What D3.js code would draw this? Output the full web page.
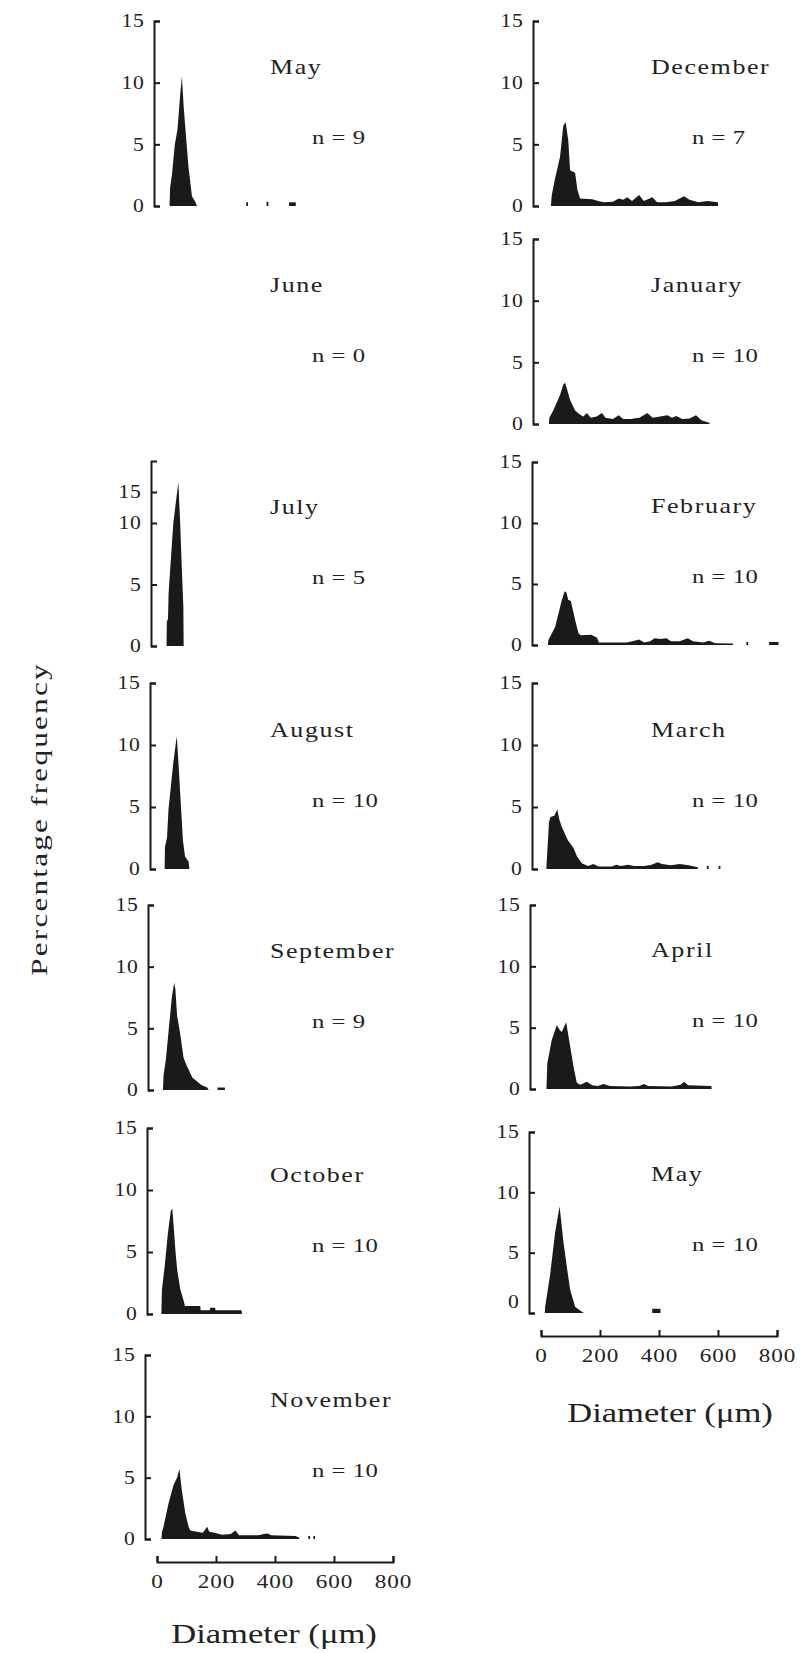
<!DOCTYPE html>
<html>
<head>
<meta charset="utf-8">
<title>Diameter frequency by month</title>
<script src="https://d3js.org/d3.v7.min.js"></script>
<style>
    body { margin: 0; background: #fff; }
    svg text { font-family: "Liberation Serif", "Times New Roman", serif; fill: #222; }
</style>
</head>
<body>
<svg id="chart" width="800" height="1653"></svg>
<script>
    // ---- data: [diameter (um), percentage frequency] ----
    const monthNames = ["May", "June", "July", "August", "September", "October", "November",
                        "December", "January", "February", "March", "April", "May"];
    const sampleSizes = [9, 0, 5, 10, 9, 10, 10, 7, 10, 10, 10, 10, 10];
    const yTicks = [0, 5, 10, 15];
    const xTicks = [0, 200, 400, 600, 800];

    const mayFirst = [[12,0],[14,1.5],[20,2.5],[30,5],[39,6.2],[48,9],[54,10.5],[60,8],[70,5],[76,3.2],[88,0.8],[100,0.3],[105,0]];
    const june = [];
    const july = [[12,0],[13,2],[17,2.2],[19,4.3],[35,10],[52,16.6],[58,10.2],[64,6.2],[69,3.2],[70,0]];
    const august = [[9,0],[10,1.8],[17,2.5],[22,4.8],[38,8.5],[50,10.7],[56,8.5],[61,6.4],[71,2.3],[78,1.0],[90,0.6],[93,0]];
    const september = [[10,0],[12,1.2],[20,2.5],[30,5],[40,7.5],[48,8.7],[52,8.2],[58,6],[64,5.2],[70,4.3],[80,2.6],[90,2.0],[100,1.5],[110,1.0],[125,0.7],[140,0.4],[160,0.2],[165,0]];
    const october = [[8,0],[10,2],[20,4],[30,6.5],[40,8.3],[45,8.5],[50,7],[56,5],[62,3.5],[72,2],[82,1.2],[88,0.65],[140,0.65],[141,0.3],[172,0.3],[174,0.5],[190,0.5],[192,0.3],[280,0.3],[281,0]];
    const november = [[15,0],[17,0.6],[22,1.0],[39,2.9],[56,4.4],[68,5.0],[76,5.7],[84,4.0],[96,2.1],[107,1.0],[113,0.7],[135,0.6],[155,0.5],[164,0.8],[170,1.0],[177,0.6],[195,0.5],[220,0.35],[250,0.4],[266,0.7],[278,0.3],[345,0.3],[362,0.4],[374,0.45],[388,0.3],[470,0.25],[482,0.1],[483,0]];
    const december = [[20,0],[23,0.9],[33,2.1],[51,4.0],[62,6.5],[70,6.8],[79,5.3],[85,2.9],[102,2.7],[110,1.3],[119,0.6],[160,0.55],[180,0.4],[200,0.3],[230,0.35],[250,0.6],[265,0.5],[279,0.7],[295,0.4],[319,0.9],[335,0.4],[364,0.7],[380,0.3],[410,0.3],[440,0.4],[471,0.8],[490,0.5],[520,0.3],[550,0.4],[586,0.3],[587,0]];
    const january = [[13,0],[15,0.5],[28,1.1],[51,2.35],[62,3.2],[68,3.35],[75,2.8],[85,1.95],[102,1.1],[119,0.75],[130,0.6],[142,0.9],[155,0.5],[175,0.6],[193,0.9],[205,0.5],[230,0.4],[250,0.7],[265,0.4],[290,0.4],[320,0.5],[347,0.9],[365,0.5],[390,0.6],[415,0.7],[430,0.5],[445,0.65],[465,0.4],[490,0.45],[512,0.7],[530,0.3],[557,0.1],[558,0]];
    const february = [[13,0],[15,0.4],[38,1.5],[60,3.65],[70,4.4],[76,4.3],[82,3.7],[91,3.6],[106,2.0],[117,0.95],[125,0.8],[160,0.85],[180,0.6],[186,0.2],[280,0.2],[300,0.3],[322,0.45],[340,0.2],[360,0.3],[375,0.55],[395,0.5],[415,0.55],[430,0.3],[460,0.3],[487,0.55],[505,0.3],[540,0.2],[560,0.35],[580,0.15],[640,0.12],[641,0]];
    const march = [[8,0],[9,0.5],[17,3.8],[22,4.2],[35,4.3],[45,4.8],[52,4.0],[60,3.4],[80,2.35],[100,1.7],[112,1.0],[129,0.45],[150,0.25],[167,0.4],[185,0.2],[230,0.2],[245,0.35],[260,0.25],[285,0.35],[305,0.25],[340,0.25],[365,0.35],[385,0.55],[400,0.4],[430,0.3],[460,0.4],[490,0.3],[521,0.15],[522,0]];
    const april = [[15,0],[16,0.7],[18,2.1],[33,4.0],[50,5.2],[60,4.8],[67,4.65],[75,5.1],[82,5.45],[90,4.25],[107,1.8],[118,0.5],[130,0.35],[152,0.6],[170,0.3],[190,0.25],[208,0.4],[230,0.25],[300,0.2],[330,0.25],[345,0.4],[360,0.25],[440,0.2],[470,0.35],[482,0.6],[495,0.3],[574,0.25],[575,0]];
    const maySecond = [[13,0],[14,0.5],[31,3.2],[48,6.7],[63,8.85],[76,5.9],[88,3.75],[99,1.9],[116,0.5],[145,0]];

    // isolated single counts beyond the main body: [from um, to um, pct]
    const mayFirstSpecks = [[272,278,0.3],[341,347,0.35],[417,440,0.3]];
    const septemberSpecks = [[195,220,0.2]];
    const novemberSpecks = [[513,519,0.25],[530,536,0.25]];
    const februarySpecks = [[686,692,0.25],[763,795,0.25]];
    const marchSpecks = [[552,558,0.25],[592,598,0.25]];
    const maySecondSpecks = [[377,405,0.35]];

    const series = [mayFirst, june, july, august, september, october, november,
                    december, january, february, march, april, maySecond];
    const specks = [mayFirstSpecks, [], [], [], septemberSpecks, [], novemberSpecks,
                    [], [], februarySpecks, marchSpecks, [], maySecondSpecks];

    // ---- layout ----
    const panels = [
        {col: 0, base: 206,  top: 21,   axisX: 154},
        {col: 0, base: 424,  top: 239,  axisX: 152, noAxis: true},
        {col: 0, base: 646,  top: 461,  axisX: 151, broken: true},
        {col: 0, base: 869,  top: 683,  axisX: 150},
        {col: 0, base: 1090, top: 905,  axisX: 148},
        {col: 0, base: 1314, top: 1128, axisX: 147},
        {col: 0, base: 1539, top: 1355, axisX: 145, xAxis: true},
        {col: 1, base: 206,  top: 21,   axisX: 533},
        {col: 1, base: 424,  top: 239,  axisX: 533},
        {col: 1, base: 645,  top: 462,  axisX: 532},
        {col: 1, base: 869,  top: 683,  axisX: 532},
        {col: 1, base: 1089, top: 905,  axisX: 530},
        {col: 1, base: 1313, top: 1132, axisX: 529, xAxis: true, zeroShift: -11}
    ];
    const labelX = [270, 651];
    const nLabelX = [312, 692];

    const ink = "#1a1a1a";
    const svg = d3.select("#chart");

    // the print is set wide: stretch the glyphs and open the spacing a little
    function wideText(x, y, str, size, sx, spacing, anchor, rotate) {
        return svg.append("text")
            .attr("transform", `translate(${x},${y})` + (rotate ? ` rotate(${rotate})` : "") + ` scale(${sx},1)`)
            .attr("text-anchor", anchor || "start")
            .style("font-size", size + "px")
            .style("letter-spacing", spacing + "px")
            .text(str);
    }

    panels.forEach((p, i) => {
        const x = d3.scaleLinear().domain([0, 800]).range([p.axisX + 12, p.axisX + 12 + 236]);
        let y;
        if (p.broken) {
            // July axis is compressed above 10
            y = d3.scaleLinear().domain([0, 10, 20]).range([p.base, p.base - 123, p.top]);
        } else {
            y = d3.scaleLinear().domain([0, 15]).range([p.base, p.top]);
        }

        if (!p.noAxis) {
            const gy = svg.append("g")
                .attr("transform", `translate(${p.axisX},0)`)
                .attr("color", ink)
                .call(d3.axisLeft(y).tickValues(yTicks).tickSize(-6).tickPadding(8).tickFormat(d3.format("d")));
            gy.selectAll("path, line").attr("stroke-width", 2);
            gy.attr("font-family", null).attr("font-size", null);
            gy.selectAll(".tick text")
                .style("font-size", "18px")
                .style("letter-spacing", "0.5px")
                .attr("transform", "scale(1.2,1)");
            if (p.zeroShift) {
                gy.selectAll(".tick text").filter(d => d === 0).attr("y", p.zeroShift);
            }

            const area = d3.area()
                .x(d => x(d[0]))
                .y0(y(0))
                .y1(d => y(d[1]));
            svg.append("path")
                .datum(series[i])
                .attr("d", area)
                .attr("fill", ink);

            svg.selectAll(null)
                .data(specks[i])
                .enter()
                .append("rect")
                .attr("x", d => x(d[0]))
                .attr("width", d => x(d[1]) - x(d[0]))
                .attr("y", d => y(d[2]))
                .attr("height", d => y(0) - y(d[2]))
                .attr("fill", ink);
        }

        if (p.xAxis) {
            const gx = svg.append("g")
                .attr("transform", `translate(0,${p.base + 23})`)
                .attr("color", ink)
                .call(d3.axisBottom(x).tickValues(xTicks).tickSize(-6).tickPadding(13));
            gx.selectAll("path, line").attr("stroke-width", 2);
            gx.attr("font-family", null).attr("font-size", null);
            gx.selectAll(".tick text")
                .style("font-size", "18.5px")
                .style("letter-spacing", "0.8px")
                .attr("transform", "scale(1.25,1)");
        }

        wideText(labelX[p.col], p.base - 132, monthNames[i], 20, 1.3, 1.2, "start");
        wideText(nLabelX[p.col], p.base - 62, "n = " + sampleSizes[i], 19, 1.3, 0.4, "start");
    });

    // axis titles
    wideText(47, 819, "Percentage frequency", 24, 1.3, 1.7, "middle", -90);
    wideText(274, 1643, "Diameter (\u03bcm)", 27, 1.28, 0, "middle");
    wideText(670, 1422, "Diameter (\u03bcm)", 27, 1.28, 0, "middle");
</script>
</body>
</html>
